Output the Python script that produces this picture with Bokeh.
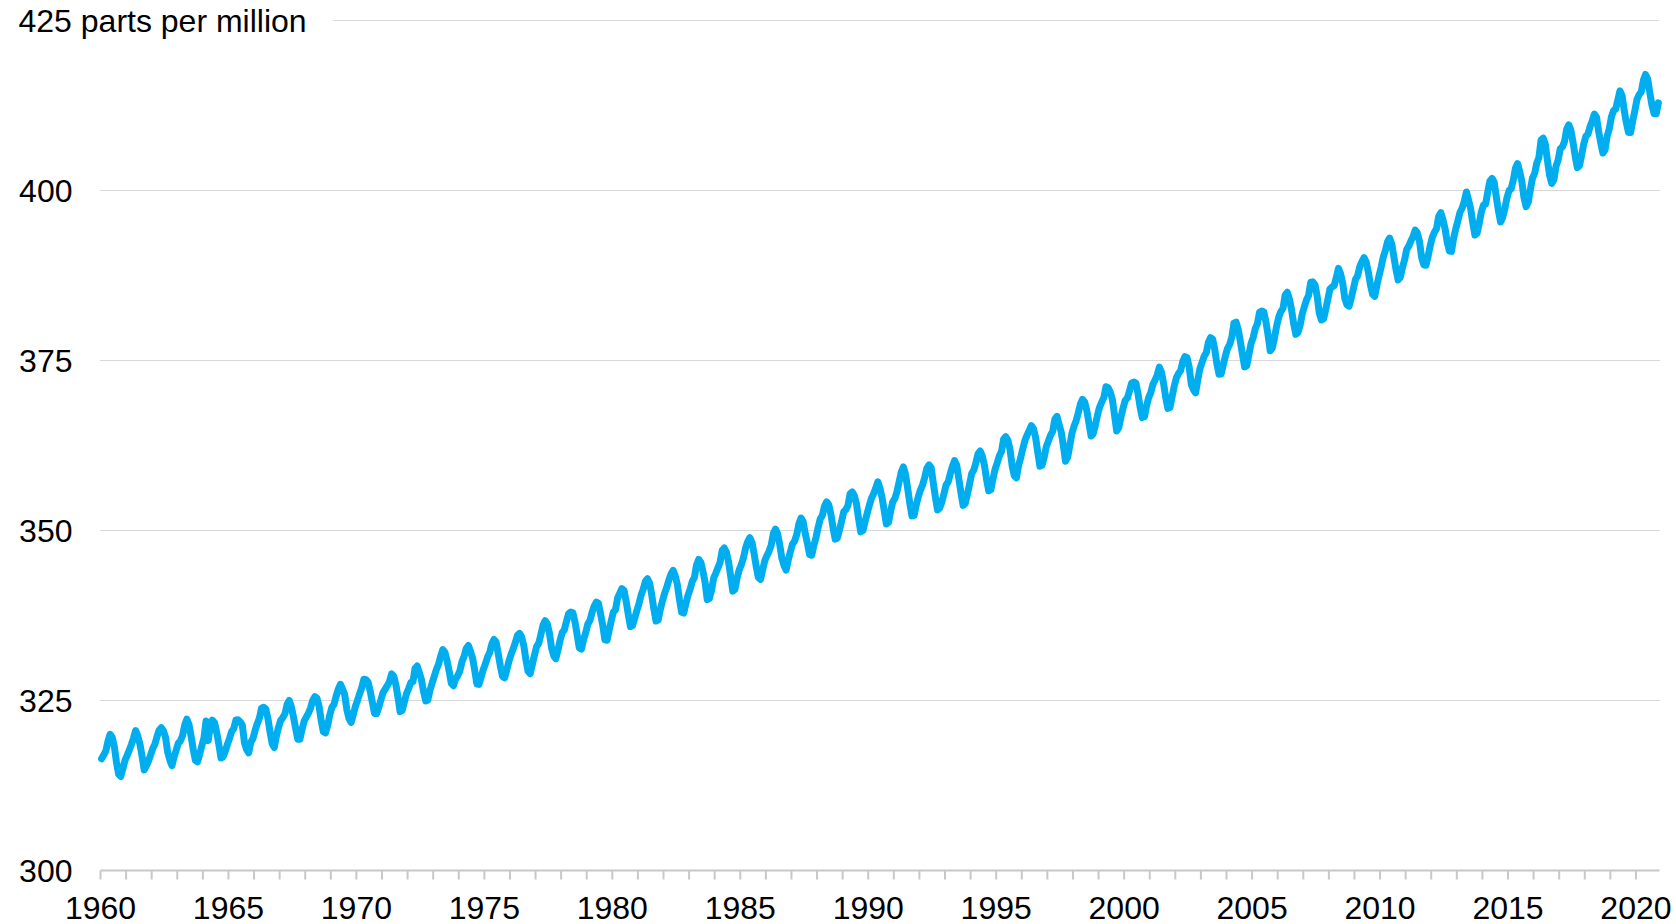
from bokeh.plotting import figure
from bokeh.models import Range1d
from bokeh.core.properties import value
from bokeh.embed import file_html
from bokeh.resources import INLINE

# Monthly mean CO2 at Mauna Loa (ppm), Jan..Dec
co2_1960s = [
    316.43, 316.97, 317.58, 319.02, 320.03, 319.59, 318.18, 315.91, 314.16, 313.83, 315.00, 316.19,
    316.93, 317.70, 318.54, 319.48, 320.58, 319.77, 318.57, 316.79, 314.80, 315.38, 316.10, 317.01,
    317.94, 318.56, 319.68, 320.63, 321.01, 320.55, 319.58, 317.40, 316.26, 315.42, 316.69, 317.69,
    318.74, 319.08, 319.86, 321.39, 322.25, 321.47, 319.74, 317.77, 316.21, 315.99, 317.07, 318.35,
    319.45, 322.00, 319.10, 321.20, 322.10, 321.73, 320.27, 318.54, 316.54, 316.71, 317.53, 318.55,
    319.44, 320.44, 320.89, 322.13, 322.16, 321.87, 321.39, 318.81, 317.81, 317.30, 318.87, 319.42,
    320.62, 321.59, 322.39, 323.87, 324.01, 323.75, 322.39, 320.37, 318.64, 318.10, 319.79, 321.08,
    322.07, 322.50, 323.04, 324.42, 325.00, 324.09, 322.55, 320.92, 319.31, 319.31, 320.72, 321.96,
    322.57, 323.15, 323.89, 325.02, 325.57, 325.36, 324.14, 322.03, 320.41, 320.25, 321.31, 322.84,
    324.00, 324.42, 325.64, 326.66, 327.38, 326.70, 325.89, 323.67, 322.38, 321.78, 322.85, 324.11,
]
co2_1970s = [
    325.03, 325.99, 326.87, 328.13, 328.07, 327.66, 326.35, 324.69, 323.10, 323.07, 324.01, 325.13,
    326.17, 326.68, 327.18, 327.78, 328.92, 328.57, 327.34, 325.46, 323.36, 323.57, 324.80, 326.01,
    326.77, 327.63, 327.75, 329.72, 330.07, 329.09, 328.05, 326.32, 324.93, 325.06, 326.50, 327.55,
    328.54, 329.56, 330.30, 331.50, 332.48, 332.07, 330.87, 329.31, 327.51, 327.18, 328.16, 328.64,
    329.35, 330.71, 331.48, 332.65, 333.09, 332.25, 331.18, 329.40, 327.43, 327.37, 328.46, 329.57,
    330.40, 331.40, 332.04, 333.31, 333.97, 333.60, 331.90, 330.06, 328.56, 328.34, 329.49, 330.76,
    331.75, 332.56, 333.50, 334.58, 334.87, 334.34, 333.05, 330.94, 329.30, 328.94, 330.31, 331.68,
    332.93, 333.42, 334.70, 336.07, 336.75, 336.27, 334.92, 332.75, 331.59, 331.16, 332.40, 333.85,
    334.97, 335.39, 336.64, 337.76, 338.01, 337.89, 336.54, 334.68, 332.76, 332.55, 333.92, 334.95,
    336.23, 336.76, 337.96, 338.89, 339.47, 339.29, 337.73, 336.09, 333.92, 333.86, 335.29, 336.73,
]
co2_1980s = [
    338.01, 338.36, 340.08, 340.77, 341.46, 341.17, 339.56, 337.60, 335.88, 336.02, 337.10, 338.21,
    339.24, 340.48, 341.38, 342.51, 342.91, 342.25, 340.49, 338.43, 336.69, 336.85, 338.36, 339.61,
    340.75, 341.61, 342.70, 343.56, 344.13, 343.35, 342.06, 339.82, 337.97, 337.86, 339.26, 340.49,
    341.38, 342.52, 343.10, 344.94, 345.75, 345.32, 343.99, 342.39, 339.86, 339.99, 341.16, 342.99,
    343.70, 344.50, 345.28, 347.06, 347.43, 346.80, 345.39, 343.28, 341.07, 341.35, 342.98, 344.22,
    344.97, 346.00, 347.43, 348.35, 348.93, 348.25, 346.56, 344.67, 343.09, 342.80, 344.24, 345.56,
    346.29, 346.96, 347.86, 349.55, 350.21, 349.54, 347.94, 345.91, 344.86, 344.17, 345.66, 346.90,
    348.02, 348.47, 349.42, 350.99, 351.84, 351.25, 349.52, 348.10, 346.44, 346.36, 347.81, 348.96,
    350.43, 351.72, 352.22, 353.59, 354.22, 353.79, 352.38, 350.43, 348.73, 348.88, 350.07, 351.34,
    352.76, 353.07, 353.68, 355.42, 355.67, 355.12, 353.90, 351.67, 349.80, 349.99, 351.30, 352.53,
]
co2_1990s = [
    353.66, 354.70, 355.39, 356.20, 357.16, 356.22, 354.82, 352.91, 350.96, 351.18, 352.83, 354.21,
    354.72, 355.75, 357.16, 358.60, 359.34, 358.24, 356.17, 354.02, 352.15, 352.21, 353.75, 354.99,
    355.98, 356.72, 357.81, 359.15, 359.66, 359.25, 357.02, 354.88, 353.01, 353.31, 354.16, 355.40,
    356.70, 357.16, 358.38, 359.46, 360.28, 359.60, 357.57, 355.52, 353.69, 353.99, 355.34, 356.80,
    358.36, 358.91, 359.97, 361.26, 361.69, 360.94, 359.55, 357.49, 355.84, 356.00, 357.58, 359.04,
    359.96, 361.00, 361.64, 363.45, 363.79, 363.26, 361.90, 359.46, 358.06, 357.75, 359.56, 360.70,
    362.05, 363.25, 364.03, 364.72, 365.41, 364.97, 363.65, 361.49, 359.46, 359.60, 360.76, 362.33,
    363.18, 364.00, 364.57, 366.35, 366.79, 365.62, 364.47, 362.51, 360.19, 360.77, 362.43, 364.28,
    365.32, 366.15, 367.31, 368.61, 369.29, 368.87, 367.64, 365.77, 363.90, 364.23, 365.46, 366.97,
    368.15, 368.87, 369.59, 371.14, 371.00, 370.35, 369.27, 366.93, 364.64, 365.13, 366.68, 368.00,
]
co2_2000s = [
    369.14, 369.46, 370.52, 371.66, 371.82, 371.70, 370.12, 368.12, 366.62, 366.73, 368.29, 369.53,
    370.28, 371.50, 372.12, 372.87, 374.02, 373.30, 371.62, 369.55, 367.96, 368.09, 369.68, 371.24,
    372.44, 373.08, 373.52, 374.85, 375.55, 375.40, 374.02, 371.48, 370.70, 370.25, 372.08, 373.78,
    374.68, 375.62, 376.11, 377.65, 378.35, 378.13, 376.62, 374.50, 372.99, 373.01, 374.35, 375.70,
    376.79, 377.37, 378.41, 380.52, 380.63, 379.57, 377.79, 375.86, 374.06, 374.24, 375.86, 377.48,
    378.37, 379.69, 380.41, 382.10, 382.28, 382.13, 380.66, 378.71, 376.42, 376.88, 378.32, 380.04,
    381.38, 382.19, 382.67, 384.61, 385.03, 384.05, 382.46, 380.41, 378.85, 379.13, 380.15, 381.82,
    382.89, 383.90, 384.58, 386.50, 386.56, 386.10, 384.50, 381.99, 380.96, 381.12, 382.45, 383.95,
    385.52, 385.82, 386.03, 387.21, 388.54, 387.76, 386.36, 384.09, 383.18, 382.99, 384.19, 385.56,
    386.94, 387.48, 388.82, 389.55, 390.14, 389.48, 388.03, 386.11, 384.74, 384.43, 386.02, 387.42,
]
co2_2010s = [
    388.71, 390.20, 391.17, 392.46, 393.00, 392.15, 390.20, 388.35, 386.85, 387.24, 388.67, 389.79,
    391.33, 391.86, 392.60, 393.25, 394.19, 393.74, 392.51, 390.13, 389.08, 389.00, 390.28, 391.86,
    393.12, 393.86, 394.40, 396.18, 396.74, 395.71, 394.36, 392.39, 391.11, 391.05, 392.98, 394.34,
    395.55, 396.80, 397.43, 398.41, 399.78, 398.61, 397.32, 395.20, 393.45, 393.70, 395.16, 396.84,
    397.85, 398.01, 399.77, 401.38, 401.78, 401.25, 399.10, 397.03, 395.38, 396.03, 397.28, 398.91,
    399.98, 400.28, 401.54, 403.28, 403.96, 402.80, 401.31, 398.93, 397.63, 398.29, 400.16, 401.85,
    402.52, 404.04, 404.83, 407.42, 407.70, 406.81, 404.39, 402.25, 401.03, 401.57, 403.53, 404.48,
    406.13, 406.42, 407.18, 409.00, 409.65, 408.84, 407.07, 405.07, 403.38, 403.64, 405.14, 406.81,
    407.96, 408.32, 409.41, 410.24, 411.24, 410.79, 408.71, 406.99, 405.51, 405.95, 408.02, 409.07,
    410.83, 411.75, 411.97, 413.32, 414.66, 413.92, 411.77, 409.95, 408.54, 408.53, 410.27, 411.76,
]
co2_2020 = [413.40, 414.11, 414.51, 416.21, 417.07, 416.39, 414.38, 412.55, 411.29, 411.28, 412.89]

first_year = 1960
last_year = 2020
last_x = 2020.92
y_min, y_top = 300, 425
y_tick_values = [300, 325, 350, 375, 400]
grid_values = [325, 350, 375, 400]
x_label_years = list(range(1960, 2021, 5))
x_tick_years = list(range(1960, 2021))
top_label = "425 parts per million"

co2 = co2_1960s + co2_1970s + co2_1980s + co2_1990s + co2_2000s + co2_2010s + co2_2020
months = [first_year + (i + 0.5) / 12 for i in range(len(co2))]

# ---- layout (pixels) ----
FONT = "Liberation Sans"
W, H = 1676, 924
axis_left_px = 100       # where first_year sits
axis_right_px = 1659     # where last_x sits
top_grid_px = 20         # where y_top sits
axis_px = 870            # where y_min sits
px_per_year = (axis_right_px - axis_left_px) / (last_x - first_year)
px_per_ppm = (axis_px - top_grid_px) / (y_top - y_min)
x_start = first_year - axis_left_px / px_per_year
x_stop = x_start + W / px_per_year
y_end = y_top + top_grid_px / px_per_ppm
y_start = y_min - (H - axis_px) / px_per_ppm

def px_to_x(px):
    return x_start + px / px_per_year

def px_below_axis(px):
    return y_min - px / px_per_ppm

p = figure(width=W, height=H, output_backend="svg", toolbar_location=None,
           x_range=Range1d(x_start, x_stop), y_range=Range1d(y_start, y_end),
           x_axis_location=None, y_axis_location=None,
           min_border_left=0, min_border_right=0, min_border_top=0, min_border_bottom=0)
p.outline_line_color = None
p.background_fill_color = "white"
p.border_fill_color = "white"
p.grid.visible = False

GRID_COLOR = "#b0b0b0"
AXIS_COLOR = "#c8c8c8"
# horizontal gridlines from the first year to the end
p.segment(x0=[first_year] * len(grid_values), x1=[last_x] * len(grid_values),
          y0=grid_values, y1=grid_values, line_color=GRID_COLOR, line_width=1,
          line_dash="1 1", level="underlay")
# top gridline starts after the unit label
p.segment(x0=[px_to_x(333)], x1=[last_x], y0=[y_top], y1=[y_top],
          line_color=GRID_COLOR, line_width=1, line_dash="1 1", level="underlay")

# x axis line and yearly ticks
p.segment(x0=[first_year], x1=[last_x], y0=[y_min], y1=[y_min],
          line_color=AXIS_COLOR, line_width=2)
p.segment(x0=x_tick_years, x1=x_tick_years, y0=[y_min] * len(x_tick_years),
          y1=[px_below_axis(9)] * len(x_tick_years), line_color=AXIS_COLOR, line_width=2)

p.line(months, co2, line_width=7, color="#00AEEF", line_join="round", line_cap="round")

# x tick labels
p.text(x=x_label_years, y=[px_below_axis(37)] * len(x_label_years),
       text=[str(v) for v in x_label_years], text_font=value(FONT),
       text_font_size=value("32px"), text_color="black",
       text_align="center", text_baseline="middle")

# y tick labels
p.text(x=[px_to_x(axis_left_px - 28)] * len(y_tick_values), y=y_tick_values,
       text=[str(v) for v in y_tick_values], text_font=value(FONT),
       text_font_size=value("32px"), text_color="black",
       text_align="right", text_baseline="middle")
p.text(x=[px_to_x(18)], y=[y_top], text=[top_label], text_font=value(FONT),
       text_font_size=value("32px"), text_color="black",
       text_align="left", text_baseline="middle")

open("out.html", "w").write(file_html(p, INLINE))
